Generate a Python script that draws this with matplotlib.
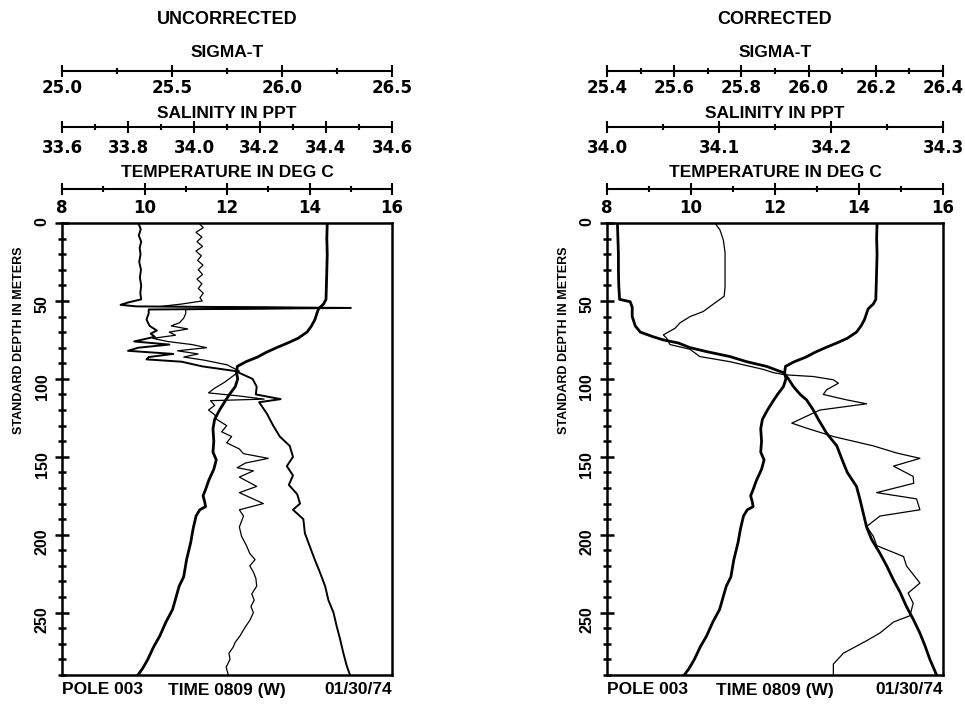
import matplotlib
matplotlib.use("Agg")
import matplotlib.pyplot as plt
from matplotlib.ticker import MultipleLocator, FormatStrFormatter

# ---- profile data (depth in m) ----
# temperature, same cast in both panels
temp_depth = [0, 10, 20, 30, 40, 49, 52, 55, 58, 62, 66, 70, 74, 77, 80, 83, 86, 89, 92, 96,
              100, 105, 110, 114, 120, 126, 132, 140, 147, 152, 158, 165, 171, 175, 179, 182,
              184, 188, 196, 205, 216, 227, 233, 248, 256, 265, 272, 280, 286, 290]
temp_degc = [14.43, 14.42, 14.43, 14.42, 14.41, 14.40, 14.34, 14.22, 14.18, 14.13, 14.05, 13.94,
             13.72, 13.47, 13.20, 12.95, 12.74, 12.46, 12.25, 12.23, 12.26, 12.20, 12.06, 11.96,
             11.82, 11.70, 11.66, 11.68, 11.66, 11.74, 11.68, 11.56, 11.48, 11.42, 11.46, 11.48,
             11.34, 11.25, 11.18, 11.12, 11.02, 10.95, 10.84, 10.68, 10.52, 10.37, 10.22, 10.08,
             9.95, 9.84]

# uncorrected sigma-t
sig_unc_depth = [0, 4, 8, 12, 16, 20, 25, 30, 35, 40, 45, 49, 51, 52.5, 53.5, 54.5, 55.5, 58, 62,
                 66, 69, 71, 73, 76, 78, 80, 82, 84, 86, 87.5, 89, 92, 95, 100, 105, 110, 113, 115,
                 122, 130, 137, 143, 150, 156, 162, 168, 174, 180, 184, 190, 199, 207, 216, 224,
                 233, 242, 250, 259, 267, 276, 284, 290]
sig_unc = [25.347, 25.358, 25.349, 25.360, 25.353, 25.357, 25.351, 25.359, 25.354, 25.360, 25.356,
           25.360, 25.300, 25.266, 25.338, 26.313, 25.394, 25.394, 25.384, 25.398, 25.431, 25.403,
           25.422, 25.328, 25.488, 25.347, 25.300, 25.506, 25.394, 25.384, 25.544, 25.638, 25.788,
           25.866, 25.885, 25.881, 25.994, 25.896, 25.930, 25.960, 25.990, 26.035, 26.050, 26.022,
           26.050, 26.031, 26.069, 26.082, 26.050, 26.097, 26.104, 26.125, 26.149, 26.172, 26.196,
           26.211, 26.234, 26.249, 26.264, 26.279, 26.294, 26.309]

# uncorrected salinity
sal_unc_depth = [0, 3, 6, 9, 12, 15, 18, 21, 24, 27, 30, 33, 36, 39, 42, 45, 48, 50, 52, 53.5, 54.5,
                 55.5, 58, 61, 64, 66, 68, 70, 72, 74, 76, 78, 80, 82, 84, 86, 88, 91, 95, 98, 102,
                 106, 109, 111, 113, 114, 117, 120, 123, 126, 130, 134, 137, 141, 145, 148, 151,
                 154, 157, 159, 163, 169, 173, 180, 184, 188, 195, 201, 207, 212, 216, 220, 224,
                 228, 233, 238, 242, 246, 250, 255, 259, 265, 269, 272, 276, 280, 285, 290]
sal_unc = [34.014, 34.028, 34.006, 34.024, 34.009, 34.026, 34.006, 34.022, 34.011, 34.027, 34.013,
           34.026, 34.009, 34.024, 34.013, 34.028, 34.018, 34.025, 33.9625, 33.900, 34.425,
           33.975, 33.975, 33.969, 33.956, 33.931, 33.981, 33.925, 33.944, 33.875, 33.919, 33.994,
           34.038, 33.950, 34.0125, 33.969, 34.031, 34.100, 34.1375, 34.119, 34.094, 34.0625,
           34.044, 34.1375, 34.2125, 34.050, 34.0625, 34.044, 34.0625, 34.069, 34.099, 34.084,
           34.114, 34.099, 34.1375, 34.150, 34.225, 34.156, 34.131, 34.180, 34.1375, 34.190,
           34.1375, 34.210, 34.1375, 34.150, 34.1375, 34.144, 34.159, 34.169, 34.185, 34.169,
           34.180, 34.1875, 34.190, 34.175, 34.1825, 34.1725, 34.180, 34.169, 34.156, 34.139,
           34.125, 34.119, 34.106, 34.109, 34.0975, 34.104]

# corrected sigma-t
sig_cor_depth = [0, 10, 20, 30, 40, 49, 50.5, 54, 60, 66, 70, 73, 75, 77, 80, 82.5, 85.7, 89, 92,
                 96, 100, 105, 110, 113.5, 120, 126, 135, 143, 152, 160, 169, 177, 186, 195, 203,
                 212, 220, 229, 237, 246, 254, 263, 271, 280, 290]
sig_cor = [25.431, 25.4325, 25.434, 25.434, 25.435, 25.4375, 25.469, 25.475, 25.475, 25.484, 25.499,
           25.5375, 25.5675, 25.6125, 25.6475, 25.696, 25.766, 25.816, 25.875, 25.925, 25.940,
           25.955, 25.975, 25.994, 26.014, 26.029, 26.054, 26.084, 26.100, 26.115, 26.1425,
           26.1525, 26.1625, 26.1725, 26.1875, 26.2125, 26.2325, 26.2525, 26.2725, 26.291,
           26.311, 26.331, 26.346, 26.361, 26.381]

# corrected salinity
sal_cor_depth = [0, 4.5, 11, 19, 30, 41, 47, 50.5, 53.6, 56.8, 60, 64, 67.5, 71.8, 74, 78, 81, 85.7,
                 89, 94, 96, 97.4, 98.5, 100.6, 102.8, 107, 110, 113.5, 116, 120, 124, 128.4,
                 131.6, 137, 143, 147.6, 151, 156, 162.6, 167, 173, 177, 184, 188, 194.7, 201, 207,
                 214, 220, 231, 237.4, 244, 252, 256, 263, 268, 276, 283, 290]
sal_cor = [34.0964, 34.1009, 34.1039, 34.1054, 34.1054, 34.1054, 34.1046, 34.0979, 34.0919, 34.0859,
           34.0743, 34.0653, 34.0608, 34.0503, 34.0533, 34.0563, 34.0740, 34.0829, 34.1099,
           34.1400, 34.1485, 34.1590, 34.1841, 34.2021, 34.2066, 34.1961, 34.1931, 34.2141,
           34.2318, 34.1901, 34.1781, 34.1650, 34.1781, 34.2021, 34.2378, 34.2588, 34.2794,
           34.2558, 34.2734, 34.2738, 34.2408, 34.2764, 34.2794, 34.2438, 34.2318, 34.2378,
           34.2408, 34.2648, 34.2674, 34.2794, 34.2689, 34.2734, 34.2704, 34.2558, 34.2438,
           34.2318, 34.2111, 34.2021, 34.2021]

W, H = 965, 705
plt.rcParams['font.family'] = 'DejaVu Sans'
plt.rcParams['font.weight'] = 'bold'
plt.rcParams['axes.labelweight'] = 'bold'
LIB = ['Liberation Sans', 'DejaVu Sans']

fig = plt.figure(figsize=(W / 100, H / 100), dpi=100)


def add_scale(ax, lim, major, minor, fmt, label, offset, pad, labelpad):
    tw = ax.twiny()
    tw.set_xlim(*lim)
    for s in ('left', 'right', 'bottom'):
        tw.spines[s].set_visible(False)
    tw.spines['top'].set_position(('outward', offset))
    tw.spines['top'].set_linewidth(1.5)
    tw.xaxis.set_major_locator(MultipleLocator(major))
    tw.xaxis.set_minor_locator(MultipleLocator(minor))
    tw.xaxis.set_major_formatter(FormatStrFormatter(fmt))
    tw.tick_params(axis='x', which='major', direction='inout', length=8, width=1.5,
                   pad=pad, labelsize=12)
    tw.tick_params(axis='x', which='minor', direction='inout', length=4, width=1.5)
    tw.set_xlabel(label, fontfamily=LIB, fontsize=12.5, labelpad=labelpad)
    return tw


def panel(left, width, title, sig_lim, sig_step, sal_lim, sal_step,
          sig_d, sig_v, sal_d, sal_v, sig_lw):
    ax = fig.add_axes([left / W, 30 / H, width / W, 452 / H])
    ax.set_xlim(8, 16)
    ax.set_ylim(290, 0)
    ax.set_xticks([])
    ax.yaxis.set_major_locator(MultipleLocator(50))
    ax.yaxis.set_minor_locator(MultipleLocator(10))
    ax.tick_params(axis='y', which='major', direction='inout', length=10, width=1.8,
                   labelrotation=90, pad=4, labelsize=11.5, labelfontfamily='Liberation Sans')
    ax.tick_params(axis='y', which='minor', direction='inout', length=6, width=1.8)
    for s in ax.spines.values():
        s.set_linewidth(1.8)
    ax.set_ylabel('STANDARD DEPTH IN METERS', fontfamily=LIB, fontsize=9)
    ax.yaxis.set_label_coords(-37 / width, 0.74)

    ax.plot(temp_degc, temp_depth, color='black', lw=2.0)

    add_scale(ax, (8, 16), 2, 1, '%d', 'TEMPERATURE IN DEG C', 24.5, -24, 3.5)
    ax_sal = add_scale(ax, sal_lim, sal_step, sal_step / 2, '%.1f', 'SALINITY IN PPT',
                       69.1, -25.5, 1.3)
    ax_sig = add_scale(ax, sig_lim, sig_step, sig_step / 2, '%.1f', 'SIGMA-T', 109.4, -23, 4.5)
    ax_sal.set_ylim(290, 0)
    ax_sig.set_ylim(290, 0)
    ax_sal.plot(sal_v, sal_d, color='black', lw=0.9)
    ax_sig.plot(sig_v, sig_d, color='black', lw=sig_lw)

    ax.text(0.5, 1 + 203 / 452, title, transform=ax.transAxes, ha='center', va='center',
            fontfamily=LIB, fontsize=13)
    yb = -15 / 452
    for x, s, ha in [(0.0, 'POLE 003', 'left'), (0.5, 'TIME 0809 (W)', 'center'),
                     (1.0, '01/30/74', 'right')]:
        ax.text(x, yb, s, transform=ax.transAxes, ha=ha, va='center',
                fontfamily=LIB, fontsize=12.5)
    return ax


panel(62, 330, 'UNCORRECTED', (25.0, 26.5), 0.5, (33.6, 34.6), 0.2,
      sig_unc_depth, sig_unc, sal_unc_depth, sal_unc, 1.4)
panel(607, 336, 'CORRECTED', (25.4, 26.4), 0.2, (34.0, 34.3), 0.1,
      sig_cor_depth, sig_cor, sal_cor_depth, sal_cor, 2.0)

fig.savefig('out.png', dpi=100)
